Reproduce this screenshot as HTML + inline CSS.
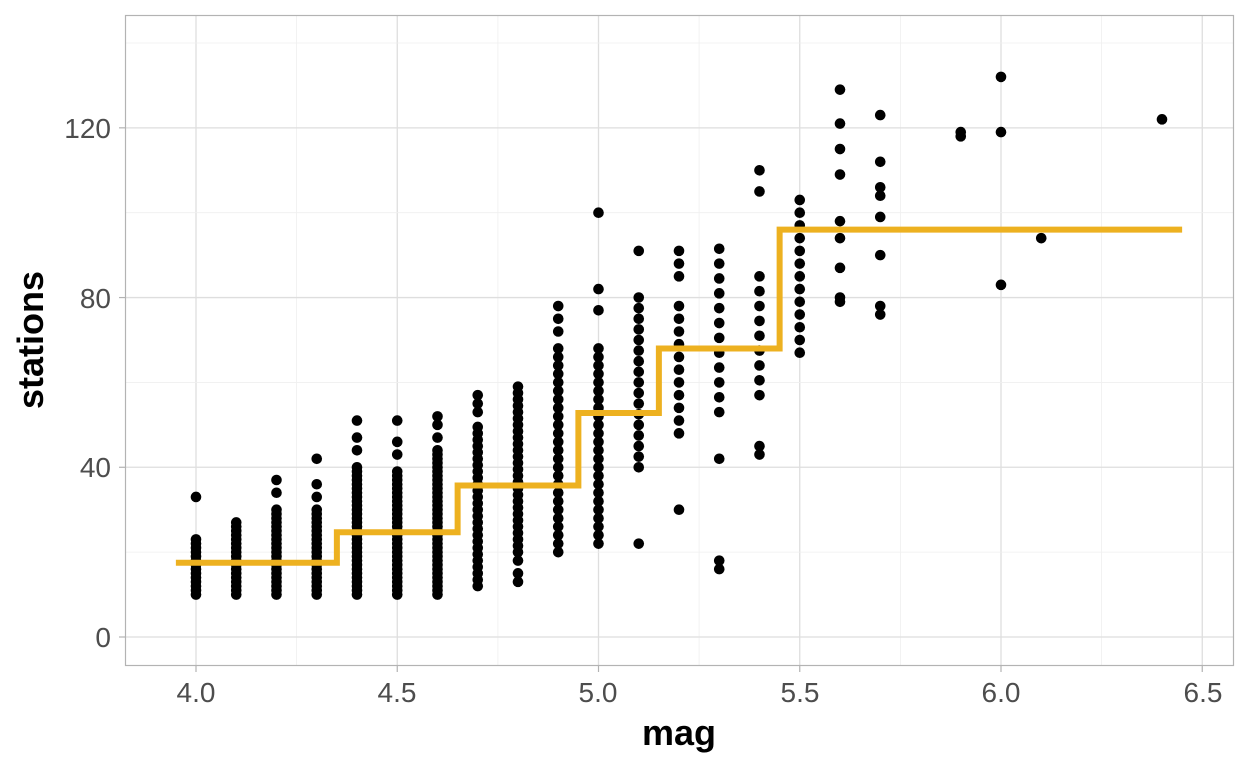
<!DOCTYPE html>
<html><head><meta charset="utf-8"><style>body{margin:0;background:#fff}svg{display:block}</style></head>
<body>
<svg id="s" width="1248" height="768" xmlns="http://www.w3.org/2000/svg" font-family="Liberation Sans, sans-serif">
<rect x="0" y="0" width="1248" height="768" fill="#fff"/>
<g id="grid"></g>
<rect x="125.5" y="15.5" width="1108" height="650" fill="none" stroke="#b3b3b3" stroke-width="1.2"/>
<g id="ticks" stroke="#b3b3b3" stroke-width="1.2"></g>
<g id="pts"></g>
<polyline fill="none" stroke="#EDB120" stroke-width="6" points=""/>
<g font-size="28" fill="#4d4d4d" text-anchor="end">
<text x="111" y="647">0</text><text x="111" y="477">40</text><text x="111" y="308">80</text><text x="111" y="138">120</text>
</g>
<g font-size="28" fill="#4d4d4d" text-anchor="middle">
<text x="196" y="702">4.0</text><text x="397" y="702">4.5</text><text x="598" y="702">5.0</text><text x="800" y="702">5.5</text><text x="1001" y="702">6.0</text><text x="1203" y="702">6.5</text>
</g>
<text x="679" y="745" font-size="36" font-weight="bold" text-anchor="middle">mag</text>
<text transform="translate(43,340) rotate(-90)" font-size="36" font-weight="bold" text-anchor="middle">stations</text>
</svg>
<script>
const X=m=>196+(m-4)*402.5, Y=v=>637-v*4.243;
let g='',t='';
for(let m=3.75;m<=6.6;m+=0.25){const x=X(m);if(x<126||x>1233)continue;const maj=Math.abs(m*2-Math.round(m*2))<1e-6;g+=`<line x1="${x}" x2="${x}" y1="16" y2="665" stroke="${maj?'#dedede':'#efefef'}" stroke-width="${maj?1.3:0.8}"/>`;if(maj)t+=`<line x1="${x}" x2="${x}" y1="666" y2="672"/>`;}
for(let v=0;v<=140;v+=20){const y=Y(v);g+=`<line x1="126" x2="1233" y1="${y}" y2="${y}" stroke="${v%40==0?'#dedede':'#efefef'}" stroke-width="${v%40==0?1.3:0.8}"/>`;if(v%40==0)t+=`<line x1="119" x2="125" y1="${y}" y2="${y}"/>`;}
document.getElementById('grid').innerHTML=g;
document.getElementById('ticks').innerHTML=t;
const cols={4.0:[[10,23,1],[33]],4.1:[[10,27,1]],4.2:[[10,30,1],[34,37]],4.3:[[10,30,1],[33,36,42]],4.4:[[10,40,1],[44,47,51]],4.5:[[10,39,1],[43,46,51]],4.6:[[10,44,1],[47,50,52]],4.7:[[12,50,1.5],[53,55,57]],4.8:[[20,60,1.5],[13,15,18]],4.9:[[20,68,2],[72,75,78]],5.0:[[22,69,2],[77,82,100]],5.1:[[40,81,2.5],[22,91]],5.2:[[48,80,3],[30,85,88,91]],5.3:[[53,93,3.5],[16,18,42]],5.4:[[57,88,3.5],[43,45,105,110]],5.5:[[67,105,3]],5.6:[[],[79,80,87,94,98,109,115,121,129]],5.7:[[],[76,78,90,99,104,106,112,123]],5.9:[[],[118,119]],6.0:[[],[83,119,132]],6.1:[[],[94]],6.4:[[],[122]]};
let p='';
for(const k in cols){const m=parseFloat(k),[r,e]=cols[k];let vs=[...(e||[])];if(r.length){for(let v=r[0];v<=r[1];v+=r[2])vs.push(v);}for(const v of vs)p+=`<circle cx="${X(m)}" cy="${Y(v)}" r="5.3" fill="#000"/>`;}
document.getElementById('pts').innerHTML=p;
const st=[[3.95,17.5],[4.35,24.7],[4.65,35.7],[4.95,52.8],[5.15,68],[5.45,96],[6.45,96]];
let pl=[];for(let i=0;i<st.length-1;i++){pl.push(X(st[i][0])+','+Y(st[i][1]));pl.push(X(st[i+1][0])+','+Y(st[i][1]));}
document.querySelector('polyline').setAttribute('points',pl.join(' '));
</script>
</body></html>
